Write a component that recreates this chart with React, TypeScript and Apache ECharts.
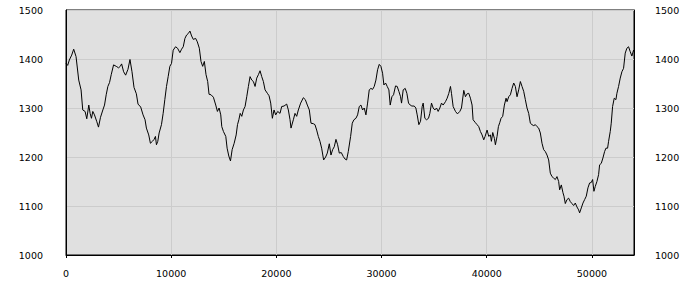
import React, { useEffect, useRef } from "react";
import * as echarts from "echarts";

const xValues: number[] = [
  0, 159, 318, 541, 732, 955, 1210, 1433, 1592, 1815, 1975, 2166, 2293, 2420, 2548, 2707, 2930, 3089, 3280, 3503,
  3662, 3822, 3981, 4140, 4299, 4522, 4777, 5000, 5159, 5287, 5478, 5669, 5892, 6083, 6274, 6465, 6688, 6847, 7102, 7325,
  7516, 7643, 7866, 8025, 8217, 8376, 8503, 8599, 8726, 8854, 9076, 9236, 9395, 9554, 9713, 9873, 10032, 10191, 10414, 10605,
  10828, 10987, 11146, 11306, 11465, 11624, 11783, 11943, 12102, 12325, 12484, 12675, 12834, 12994, 13153, 13312, 13471, 13599, 13790, 14013,
  14236, 14395, 14554, 14713, 14809, 14968, 15191, 15318, 15478, 15637, 15796, 15987, 16178, 16306, 16433, 16561, 16709, 16867, 17025, 17183,
  17341, 17500, 17658, 17816, 17975, 18133, 18291, 18449, 18608, 18766, 18924, 19146, 19304, 19462, 19620, 19778, 19937, 20127, 20348, 20506,
  20728, 20981, 21139, 21298, 21393, 21614, 21772, 21931, 22089, 22310, 22564, 22753, 22943, 23133, 23292, 23513, 23671, 23830, 23988, 24146,
  24304, 24494, 24684, 24842, 25032, 25191, 25349, 25507, 25665, 25824, 25982, 26172, 26361, 26520, 26678, 26836, 27058, 27216, 27374, 27564,
  27723, 27881, 28039, 28197, 28356, 28514, 28672, 28830, 28989, 29147, 29305, 29463, 29622, 29780, 29938, 30096, 30222, 30381, 30539, 30697,
  30823, 30982, 31140, 31330, 31488, 31646, 31805, 31900, 32058, 32248, 32407, 32565, 32723, 32881, 33103, 33261, 33388, 33546, 33704, 33862,
  33957, 34116, 34274, 34464, 34591, 34749, 34907, 35065, 35224, 35382, 35540, 35698, 35857, 36078, 36237, 36395, 36553, 36648, 36806, 37028,
  37218, 37440, 37598, 37816, 37975, 38133, 38291, 38449, 38607, 38702, 38924, 39082, 39240, 39399, 39557, 39715, 39842, 40032, 40190, 40348,
  40443, 40570, 40728, 40823, 40981, 41108, 41234, 41361, 41519, 41677, 41836, 41931, 42089, 42247, 42405, 42564, 42722, 42880, 43038, 43197,
  43355, 43513, 43671, 43830, 43988, 44146, 44304, 44463, 44621, 44779, 44937, 45096, 45254, 45412, 45570, 45729, 45887, 46045, 46203, 46362,
  46520, 46678, 46836, 46931, 47090, 47248, 47343, 47469, 47627, 47786, 47944, 48102, 48261, 48419, 48577, 48735, 48830, 48989, 49147, 49305,
  49463, 49622, 49780, 49938, 50065, 50191, 50318, 50476, 50634, 50729, 50888, 51046, 51204, 51331, 51489, 51584, 51742, 51837, 51964, 52122,
  52280, 52375, 52533, 52692, 52850, 53008, 53166, 53324, 53483, 53641, 53799, 53957, 54000,
];

const yValues: number[] = [
  1391, 1387, 1398, 1408, 1420, 1405, 1357, 1337, 1296, 1293, 1278, 1306, 1289, 1279, 1293, 1286, 1272, 1261, 1281, 1296,
  1306, 1327, 1344, 1352, 1368, 1388, 1385, 1382, 1385, 1390, 1374, 1367, 1379, 1399, 1374, 1342, 1329, 1308, 1302, 1286,
  1276, 1259, 1245, 1228, 1232, 1236, 1242, 1225, 1232, 1249, 1266, 1289, 1317, 1344, 1364, 1385, 1391, 1418, 1425, 1422,
  1413, 1420, 1425, 1442, 1449, 1452, 1457, 1447, 1440, 1442, 1435, 1422, 1395, 1385, 1395, 1368, 1354, 1328, 1327, 1322,
  1306, 1293, 1300, 1286, 1262, 1252, 1242, 1218, 1202, 1192, 1215, 1228, 1245, 1266, 1276, 1289, 1283, 1296, 1303, 1323,
  1344, 1364, 1357, 1354, 1344, 1361, 1368, 1376, 1364, 1354, 1337, 1330, 1325, 1310, 1279, 1296, 1286, 1293, 1289, 1303,
  1304, 1308, 1296, 1276, 1259, 1276, 1289, 1283, 1296, 1310, 1321, 1317, 1306, 1296, 1269, 1268, 1266, 1255, 1242, 1232,
  1218, 1194, 1200, 1208, 1227, 1204, 1215, 1221, 1236, 1225, 1208, 1209, 1201, 1196, 1194, 1211, 1242, 1269, 1276, 1279,
  1286, 1303, 1306, 1296, 1300, 1286, 1310, 1337, 1340, 1338, 1344, 1357, 1378, 1389, 1385, 1371, 1347, 1351, 1344, 1337,
  1306, 1323, 1327, 1345, 1344, 1334, 1323, 1310, 1337, 1340, 1330, 1310, 1306, 1304, 1304, 1300, 1286, 1266, 1273, 1303,
  1310, 1279, 1276, 1279, 1289, 1310, 1300, 1296, 1300, 1293, 1300, 1310, 1306, 1313, 1320, 1330, 1344, 1330, 1303, 1293,
  1288, 1293, 1300, 1336, 1323, 1329, 1330, 1320, 1306, 1276, 1270, 1266, 1262, 1252, 1245, 1235, 1242, 1255, 1242, 1245,
  1232, 1250, 1238, 1225, 1242, 1262, 1270, 1279, 1283, 1306, 1320, 1313, 1323, 1327, 1340, 1351, 1344, 1323, 1337, 1354,
  1344, 1334, 1317, 1300, 1289, 1269, 1266, 1264, 1266, 1262, 1259, 1249, 1228, 1215, 1211, 1204, 1194, 1167, 1160, 1157,
  1154, 1160, 1150, 1133, 1143, 1127, 1120, 1105, 1113, 1116, 1109, 1105, 1101, 1106, 1098, 1092, 1086, 1096, 1106, 1113,
  1120, 1137, 1147, 1148, 1154, 1130, 1140, 1150, 1164, 1184, 1187, 1198, 1211, 1218, 1218, 1232, 1252, 1269, 1303, 1320,
  1317, 1330, 1344, 1361, 1374, 1381, 1412, 1422, 1425, 1415, 1406, 1418, 1415,
];

const xTickLabels: number[] = [0, 10000, 20000, 30000, 40000, 50000];
const yTickLabels: number[] = [1000, 1100, 1200, 1300, 1400, 1500];

const FONT = "DejaVu Sans";

export default function App() {
  const ref = useRef<HTMLDivElement>(null);
  useEffect(() => {
    if (!ref.current) return;
    const chart = echarts.init(ref.current, undefined, { renderer: "svg" });
    const data = xValues.map((x, i) => [x, yValues[i]]);
    const yLabel = {
      color: "#000",
      fontFamily: FONT,
      fontSize: 9.5,
      formatter: (v: number) => String(v),
    };
    chart.setOption({
      animation: false,
      backgroundColor: "#ffffff",
      grid: {
        left: 66,
        right: 66,
        top: 10,
        bottom: 45,
        show: true,
        backgroundColor: "#e0e0e0",
        borderColor: "#000",
        borderWidth: 1,
      },
      xAxis: {
        type: "value",
        min: 0,
        max: 54000,
        interval: 10000,
        axisLine: { show: true, lineStyle: { color: "#000", width: 1 } },
        axisTick: {
          show: true,
          length: 3,
          lineStyle: { color: "#000" },
          customValues: xTickLabels,
        },
        axisLabel: {
          color: "#000",
          fontFamily: FONT,
          fontSize: 9.5,
          margin: 13,
          customValues: xTickLabels,
          formatter: (v: number) => String(v),
        },
        splitLine: { show: true, lineStyle: { color: "#cccccc", width: 1 } },
      },
      yAxis: [
        {
          type: "value",
          position: "left",
          min: 1000,
          max: 1500,
          interval: 100,
          axisLine: { show: true, lineStyle: { color: "#000" } },
          axisTick: { show: false },
          axisLabel: { ...yLabel, margin: 23, customValues: yTickLabels },
          splitLine: { show: true, lineStyle: { color: "#cccccc", width: 1 } },
        },
        {
          type: "value",
          position: "right",
          min: 1000,
          max: 1500,
          interval: 100,
          axisLine: { show: true, lineStyle: { color: "#000" } },
          axisTick: { show: false },
          axisLabel: { ...yLabel, margin: 21, customValues: yTickLabels },
          splitLine: { show: false },
        },
      ],
      series: [
        {
          type: "line",
          data,
          xAxisIndex: 0,
          yAxisIndex: 0,
          showSymbol: false,
          symbol: "none",
          lineStyle: { color: "#000", width: 1 },
          emphasis: { disabled: true },
        },
      ],
    });
    return () => chart.dispose();
  }, []);
  return (
    <div
      ref={ref}
      style={{ position: "fixed", left: 0, top: 0, width: 700, height: 300 }}
    />
  );
}
